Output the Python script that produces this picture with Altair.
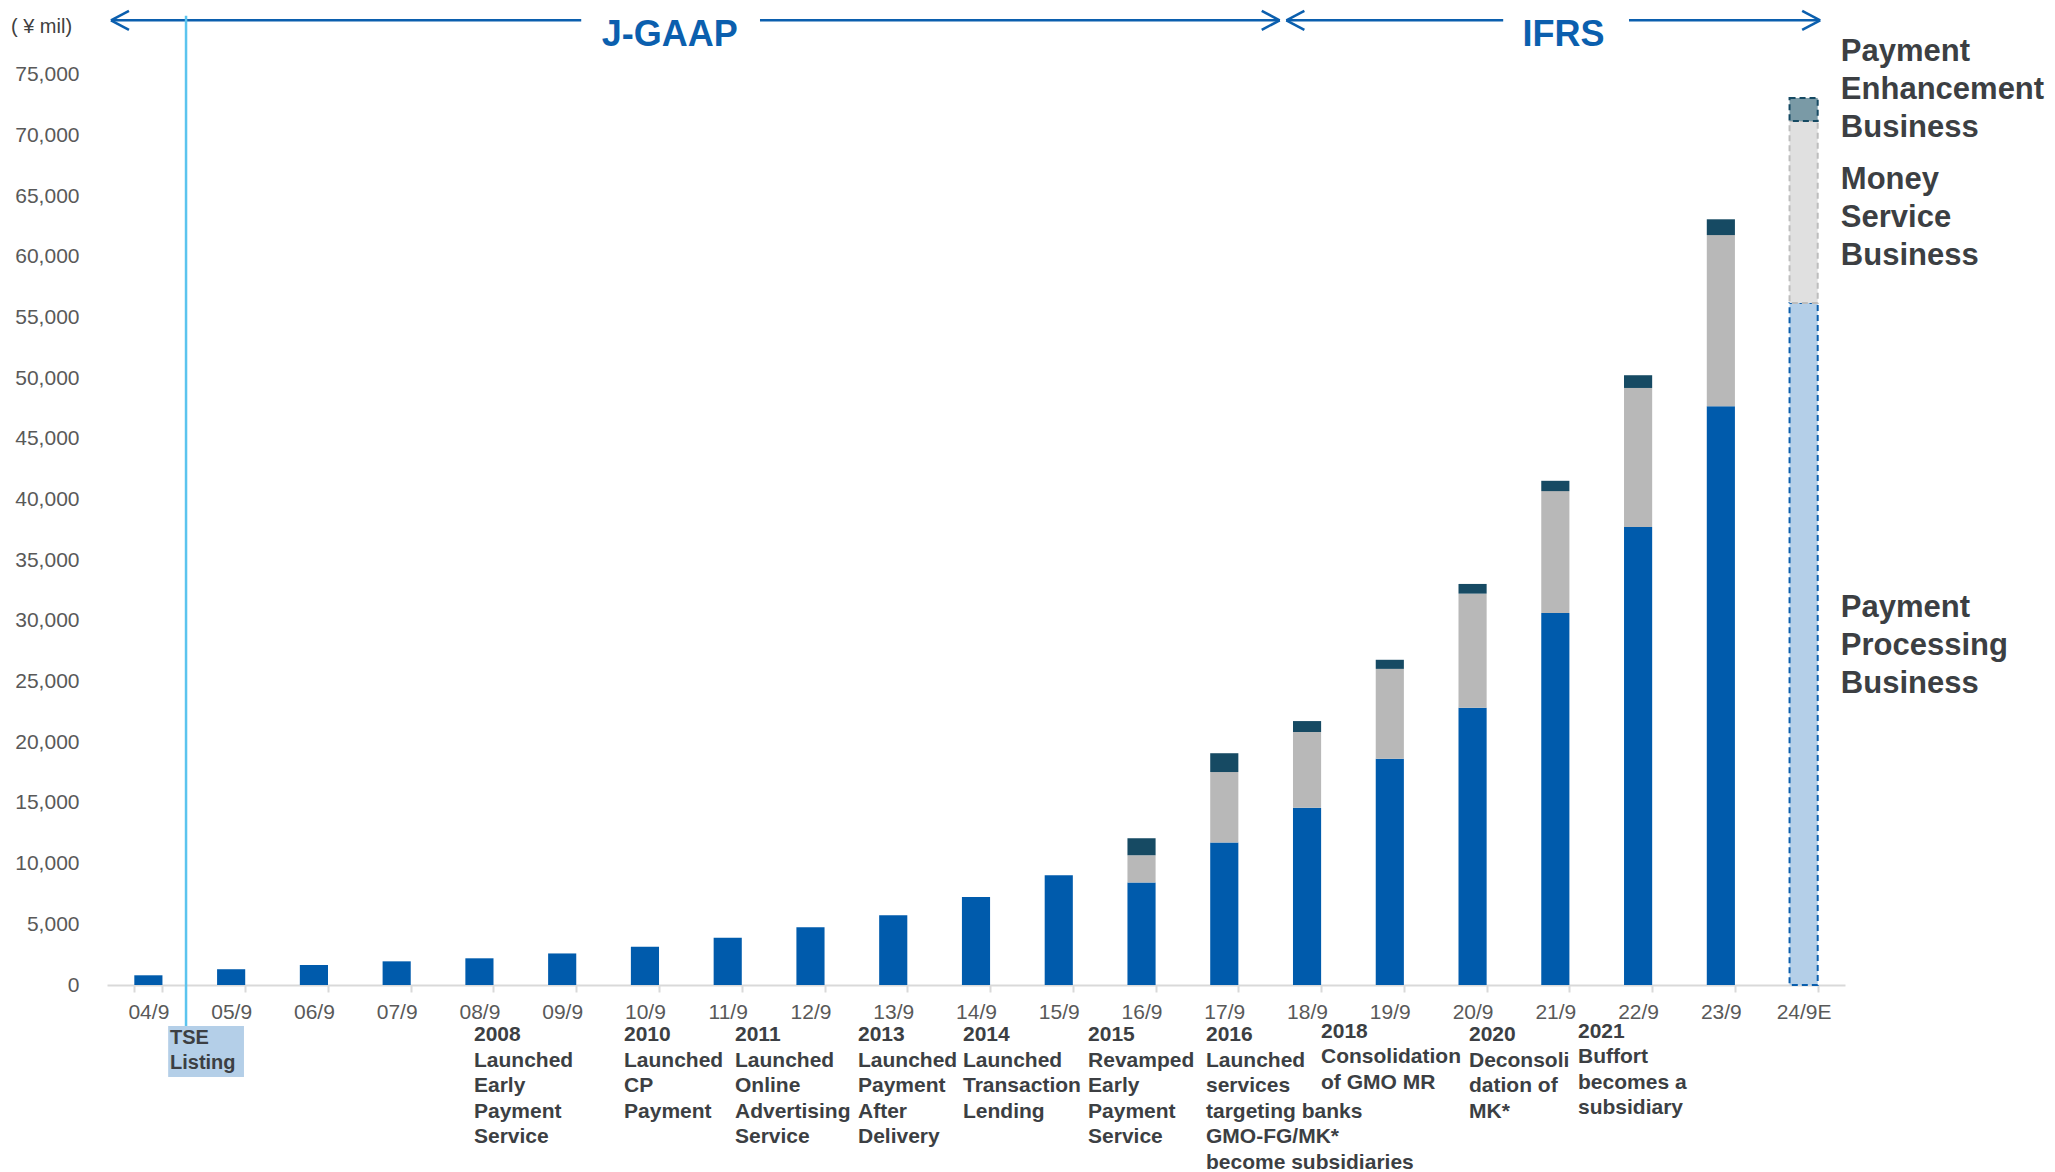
import altair as alt
import pandas as pd

# ---------------- data ----------------
categories = ["04/9", "05/9", "06/9", "07/9", "08/9", "09/9", "10/9", "11/9", "12/9",
              "13/9", "14/9", "15/9", "16/9", "17/9", "18/9", "19/9", "20/9", "21/9",
              "22/9", "23/9", "24/9E"]
processing = [800, 1300, 1650, 1950, 2200, 2600, 3150, 3900, 4750, 5750, 7250, 9050,
              8450, 11750, 14600, 18650, 22850, 30650, 37750, 47700, 56200]
money = [0, 0, 0, 0, 0, 0, 0, 0, 0, 0, 0, 0,
         2250, 5800, 6250, 7400, 9400, 10050, 11450, 14100, 15000]
enhancement = [0, 0, 0, 0, 0, 0, 0, 0, 0, 0, 0, 0,
               1400, 1550, 900, 750, 800, 850, 1050, 1300, 1900]
segments = ["Payment Processing Business", "Money Service Business",
            "Payment Enhancement Business"]

event_labels = [
    "2008\nLaunched\nEarly\nPayment\nService",
    "2010\nLaunched\nCP\nPayment",
    "2011\nLaunched\nOnline\nAdvertising\nService",
    "2013\nLaunched\nPayment\nAfter\nDelivery",
    "2014\nLaunched\nTransaction\nLending",
    "2015\nRevamped\nEarly\nPayment\nService",
    "2016\nLaunched\nservices\ntargeting banks\nGMO-FG/MK*\nbecome subsidiaries",
    "2018\nConsolidation\nof GMO MR",
    "2020\nDeconsoli\ndation of\nMK*",
    "2021\nBuffort\nbecomes a\nsubsidiary",
]
listing_label = "TSE\nListing"
segment_labels = ["Payment\nEnhancement\nBusiness", "Money\nService\nBusiness",
                  "Payment\nProcessing\nBusiness"]
standards = ["J-GAAP", "IFRS"]

# ---------------- layout (x in category slots, y in ¥ mil) ----------------
Y_MAX = 80100
event_x = [4.434, 6.247, 7.588, 9.074, 10.343, 11.854, 13.279, 14.669, 16.457, 17.774]
event_y = [-3080, -3080, -3080, -3080, -3080, -3080, -3080, -2800, -3080, -2800]
seg_label_x = 20.95
seg_label_y = [78476, 67927, 32651]
arrow_y = 79494
head_dx, head_dy = 0.2175, 783
arrow_lines = [(0.048, 5.73), (7.89, 14.17), (14.25, 16.87), (18.39, 20.70)]
arrow_tips = [(0.048, 1), (14.17, -1), (14.25, 1), (20.70, -1)]
standard_x = [6.80, 17.60]
standard_y = 78299

DARK = "#3C3F43"
BLUE = "#0B5FAE"
FONT = "Liberation Sans"

# ---------------- bars ----------------
rows = []
for i, c in enumerate(categories):
    est = c.endswith("E")
    for k, vals in enumerate([processing, money, enhancement]):
        if vals[i] > 0:
            rows.append({"cat": c, "seg": segments[k], "order": k, "value": vals[i],
                         "style": segments[k] + (" (E)" if est else ""), "est": est})
df = pd.DataFrame(rows)

style_domain = segments + [s + " (E)" for s in segments]
style_fill = ["#005BAC", "#B8B8B8", "#164A63", "#B4CFE8", "#E0E0E0", "#7A9AA6"]

x_enc = alt.X("cat:N",
              scale=alt.Scale(domain=categories, paddingInner=0.66, paddingOuter=0.33),
              axis=alt.Axis(title=None, labelAngle=0, labelFont=FONT, labelFontSize=21,
                            labelColor="#595959", labelPadding=9, domainColor="#D9D9D9",
                            domainWidth=2, tickColor="#D9D9D9", tickWidth=2, tickSize=7,
                            tickBand="extent", grid=False))
y_scale = alt.Scale(domain=[0, Y_MAX], nice=False, zero=False)
y_enc = alt.Y("value:Q", stack="zero", scale=y_scale,
              axis=alt.Axis(values=list(range(0, 75001, 5000)), format=",.0f",
                            domain=False, ticks=False, grid=False, labelFont=FONT,
                            labelFontSize=21, labelColor="#595959", labelPadding=28,
                            title="( ¥ mil)", titleAngle=0, titleX=-66, titleY=13,
                            titleFont=FONT, titleFontSize=20, titleFontWeight="normal",
                            titleColor="#404040", titleAlign="center",
                            titleBaseline="middle"))
fill_enc = alt.Fill("style:N", scale=alt.Scale(domain=style_domain, range=style_fill),
                    legend=None)

actual = alt.Chart(df[~df["est"]]).mark_bar().encode(
    x=x_enc, y=y_enc, fill=fill_enc, order=alt.Order("order:Q"))
estimate = alt.Chart(df[df["est"]]).mark_bar(strokeDash=[6, 4], strokeWidth=2).encode(
    x=x_enc, y=y_enc, fill=fill_enc, order=alt.Order("order:Q"),
    stroke=alt.Stroke("style:N",
                      scale=alt.Scale(domain=[s + " (E)" for s in segments],
                                      range=["#0B5FAE", "#BDBDBD", "#164A63"]),
                      legend=None))
bars = alt.layer(actual, estimate)

# ---------------- annotations ----------------
sx = alt.Scale(domain=[0, 21], nice=False, zero=False)
ann_y = alt.Scale(domain=[0, Y_MAX], nice=False, zero=False)

seg_rows = []
for a, b in arrow_lines:
    seg_rows.append({"x": a, "x2": b, "y": arrow_y, "y2": arrow_y})
for tip, d in arrow_tips:
    for s in (1, -1):
        seg_rows.append({"x": tip, "x2": tip + d * head_dx, "y": arrow_y,
                         "y2": arrow_y + s * head_dy})
arrows = alt.Chart(pd.DataFrame(seg_rows)).mark_rule(color=BLUE, strokeWidth=2.5).encode(
    x=alt.X("x:Q", scale=sx, axis=None), x2="x2:Q",
    y=alt.Y("y:Q", scale=ann_y, axis=None), y2="y2:Q")

std_text = alt.Chart(pd.DataFrame({"x": standard_x, "y": [standard_y] * 2,
                                   "t": standards})).mark_text(
    font=FONT, fontSize=36, fontWeight="bold", color=BLUE, align="center",
    baseline="middle").encode(
    x=alt.X("x:Q", scale=sx, axis=None), y=alt.Y("y:Q", scale=ann_y, axis=None),
    text="t:N")

tse_box = alt.Chart(pd.DataFrame({"x": [0.739], "x2": [1.655], "y": [-3379],
                                  "y2": [-7583]})).mark_rect(color="#B4CFE8").encode(
    x=alt.X("x:Q", scale=sx, axis=None), x2="x2:Q",
    y=alt.Y("y:Q", scale=ann_y, axis=None), y2="y2:Q")
tse_line = alt.Chart(pd.DataFrame({"x": [0.955], "y": [79865], "y2": [-3379]})).mark_rule(
    color="#5BC4EE", strokeWidth=2.5).encode(
    x=alt.X("x:Q", scale=sx, axis=None),
    y=alt.Y("y:Q", scale=ann_y, axis=None), y2="y2:Q")
tse_text = alt.Chart(pd.DataFrame({"x": [0.761], "y": [-3396],
                                   "t": [listing_label]})).mark_text(
    font=FONT, fontSize=20, fontWeight="bold", color=DARK, align="left",
    baseline="line-top", lineBreak="\n", lineHeight=25).encode(
    x=alt.X("x:Q", scale=sx, axis=None), y=alt.Y("y:Q", scale=ann_y, axis=None),
    text="t:N")

events = alt.Chart(pd.DataFrame({"x": event_x, "y": event_y, "t": event_labels})).mark_text(
    font=FONT, fontSize=21, fontWeight="bold", color=DARK, align="left",
    baseline="line-top", lineBreak="\n", lineHeight=25.5).encode(
    x=alt.X("x:Q", scale=sx, axis=None), y=alt.Y("y:Q", scale=ann_y, axis=None),
    text="t:N")

seg_text = alt.Chart(pd.DataFrame({"x": [seg_label_x] * 3, "y": seg_label_y,
                                   "t": segment_labels})).mark_text(
    font=FONT, fontSize=31, fontWeight="bold", color=DARK, align="left",
    baseline="line-top", lineBreak="\n", lineHeight=38.3).encode(
    x=alt.X("x:Q", scale=sx, axis=None), y=alt.Y("y:Q", scale=ann_y, axis=None),
    text="t:N")

annotations = alt.layer(arrows, std_text, tse_line, tse_box, tse_text, events, seg_text)

chart = alt.layer(bars, annotations).resolve_scale(x="independent", y="independent").properties(
    width=1738, height=972,
    autosize=alt.AutoSizeParams(type="none"),
    padding={"left": 99, "top": 5, "right": 200, "bottom": 187},
    background="white",
).configure_view(stroke=None)

chart.save("out.html", embed_options={"renderer": "svg", "actions": False})
